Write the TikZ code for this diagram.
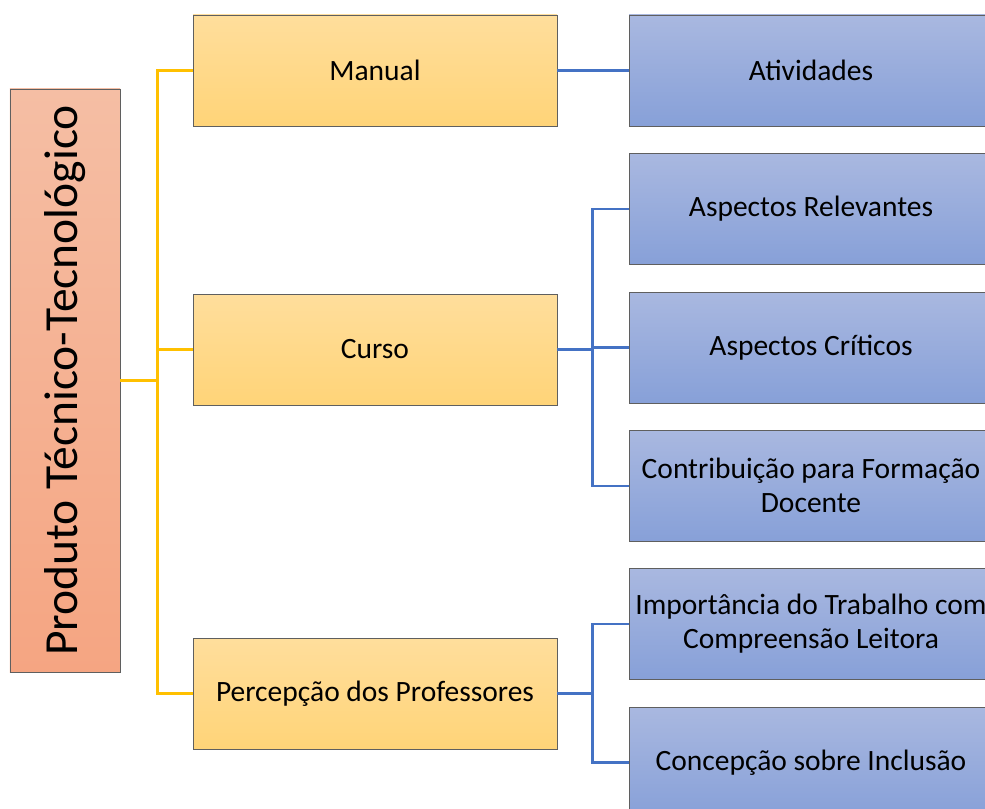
\documentclass[tikz,border=0pt]{standalone}
\usepackage{fontspec}
\setmainfont{Carlito}
\definecolor{ytop}{HTML}{FFDE9C}
\definecolor{ybot}{HTML}{FFD478}
\definecolor{btop}{HTML}{A9B8E0}
\definecolor{bbot}{HTML}{87A0D8}
\definecolor{rtop}{HTML}{F5BEA4}
\definecolor{rbot}{HTML}{F5A582}
\definecolor{yline}{HTML}{FFC000}
\definecolor{bline}{HTML}{4472C4}
\definecolor{edge}{HTML}{5F5F5F}
\begin{document}
\begin{tikzpicture}[x=1bp,y=-1bp,
  box/.style={draw=edge,line width=0.8bp,minimum width=364bp,minimum height=111bp,
    inner sep=2bp,align=center,font=\fontsize{29.5bp}{34bp}\selectfont},
  ybox/.style={box,top color=ytop,bottom color=ybot},
  bbox/.style={box,top color=btop,bottom color=bbot},
  rbox/.style={draw=edge,line width=0.8bp,top color=rtop,bottom color=rbot,
    minimum width=110bp,minimum height=583bp,inner sep=0bp},
  yl/.style={draw=yline,line width=2.2bp},
  bl/.style={draw=bline,line width=2.2bp}]
\useasboundingbox (0,0) rectangle (985,809);
\clip (0,0) rectangle (985,809);
\node[rbox] (root) at (65,380.5) {};
\node[rotate=90,font=\fontsize{47.5bp}{55bp}\selectfont] (roottext) at (root.center) {Produto Técnico-Tecnológico};
\node[ybox] (manual) at (375,70.5) {Manual};
\node[ybox] (curso) at (375,349.5) {Curso};
\node[ybox] (perc) at (375,693.5) {Percepção dos Professores};
\node[bbox] (ativ) at (811,70.5) {Atividades};
\node[bbox] (rel) at (811,209) {Aspectos Relevantes};
\node[bbox] (crit) at (811,347.5) {Aspectos Críticos};
\node[bbox] (contr) at (811,485.7) {Contribuição para Formação\\Docente};
\node[bbox] (imp) at (811,623.7) {Importância do Trabalho com\\Compreensão Leitora};
\node[bbox] (conc) at (811,762.5) {Concepção sobre Inclusão};
\draw[yl] (root.east) -- ++(37,0) coordinate (ytrunk);
\draw[yl] (ytrunk) |- (manual.west);
\draw[yl] (ytrunk) |- (curso.west);
\draw[yl] (ytrunk) |- (perc.west);
\draw[bl] (manual.east) -- (ativ.west);
\draw[bl] (curso.east) -- ++(35,0) coordinate (btrunk);
\draw[bl] (btrunk) |- (rel.west);
\draw[bl] (btrunk) |- (crit.west);
\draw[bl] (btrunk) |- (contr.west);
\draw[bl] (perc.east) -- ++(35,0) coordinate (btrunk2);
\draw[bl] (btrunk2) |- (imp.west);
\draw[bl] (btrunk2) |- (conc.west);
\end{tikzpicture}
\end{document}
